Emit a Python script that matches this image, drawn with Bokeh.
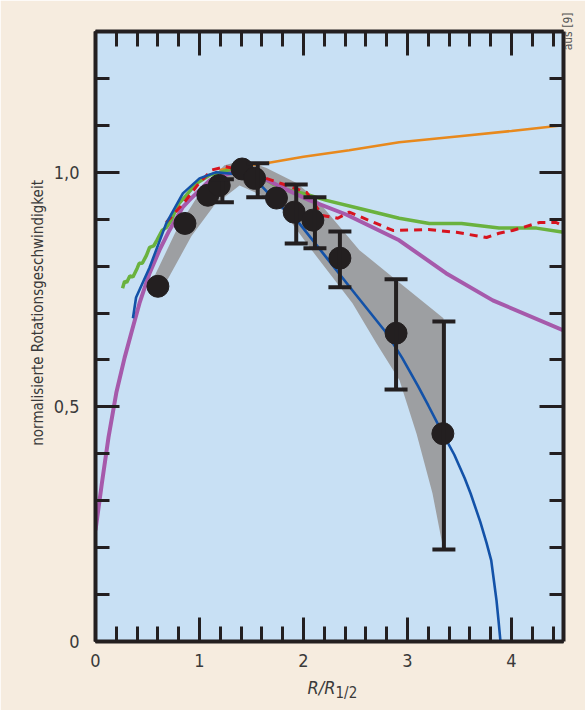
import math
from bokeh.plotting import figure
from bokeh.models import (LinearAxis, FixedTicker, Range1d, Whisker,
                          ColumnDataSource, TeeHead)
from bokeh.embed import file_html
from bokeh.resources import INLINE

# ---------------- data ----------------
x_ticks = [0, 1, 2, 3, 4]
x_tick_labels = ["0", "1", "2", "3", "4"]
x_minor = [0.2 * i for i in range(23)]
y_ticks = [0, 0.5, 1.0]
y_tick_labels = ["0", "0,5", "1,0"]
y_minor = [0.1 * i for i in range(14)]

pts_x = [0.60, 0.86, 1.08, 1.19, 1.41, 1.53, 1.74, 1.91, 2.09, 2.35, 2.89, 3.34]
pts_y = [0.757, 0.891, 0.951, 0.972, 1.007, 0.987, 0.945, 0.915, 0.898, 0.817, 0.657, 0.443]

err_x = [1.22, 1.56, 1.93, 2.11, 2.35, 2.89, 3.35]
err_lo = [0.936, 0.947, 0.848, 0.838, 0.755, 0.537, 0.196]
err_hi = [0.985, 1.019, 0.974, 0.947, 0.874, 0.772, 0.682]

band_x = [0.635, 0.923, 1.144, 1.385, 1.596, 1.798, 2.058, 2.471, 2.702, 2.923, 3.087, 3.240, 3.337,
          3.346, 2.894, 2.538, 2.135, 1.933, 1.644, 1.433, 1.240, 1.048, 0.788, 0.538]
band_y = [0.748, 0.864, 0.930, 0.972, 0.951, 0.919, 0.840, 0.721, 0.635, 0.557, 0.443, 0.316, 0.205,
          0.689, 0.770, 0.834, 0.940, 0.977, 1.009, 1.026, 1.015, 0.972, 0.881, 0.765]

blue_x = [0.36, 0.39, 0.52, 0.68, 0.84, 1.0, 1.16, 1.4, 1.6, 1.77, 1.96, 2.2, 2.5, 2.8, 2.95, 3.1,
          3.2, 3.34, 3.45, 3.55, 3.606, 3.7, 3.76, 3.805, 3.83, 3.856, 3.875, 3.894]
blue_y = [0.689, 0.733, 0.797, 0.891, 0.955, 0.987, 1.0, 0.995, 0.97, 0.93, 0.891, 0.824, 0.74, 0.657,
          0.604, 0.545, 0.503, 0.443, 0.398, 0.348, 0.316, 0.255, 0.21, 0.173, 0.131, 0.087, 0.045,
          0.0]

green_x = [0.26, 0.28, 0.30, 0.33, 0.36, 0.40, 0.42, 0.45, 0.49, 0.52, 0.56, 0.59, 0.64, 0.68, 0.73,
           0.79, 0.97, 1.1, 1.25, 1.4, 1.6, 1.77, 2.0, 2.22, 2.5, 2.92, 3.21, 3.52, 3.88, 4.24, 4.5]
green_y = [0.753, 0.768, 0.765, 0.779, 0.777, 0.795, 0.806, 0.806, 0.823, 0.840, 0.843, 0.855, 0.876,
           0.882, 0.898, 0.930, 0.976, 0.994, 1.003, 1.0, 0.99, 0.966, 0.955, 0.940, 0.925, 0.902,
           0.891, 0.891, 0.881, 0.881, 0.872]

mag_x = [0.0, 0.06, 0.125, 0.2, 0.28, 0.356, 0.423, 0.52, 0.615, 0.71, 0.837, 0.9, 1.1, 1.32, 1.55,
         1.77, 2.06, 2.41, 2.92, 3.37, 3.82, 4.5]
mag_y = [0.237, 0.335, 0.435, 0.53, 0.605, 0.667, 0.721, 0.785, 0.834, 0.876, 0.925, 0.94, 0.983,
         1.0, 0.995, 0.97, 0.94, 0.91, 0.855, 0.785, 0.727, 0.663]

red_x = [0.68, 0.85, 1.0, 1.12, 1.25, 1.4, 1.6, 1.8, 2.03, 2.18, 2.33, 2.44, 2.7, 2.86, 3.2, 3.47,
         3.76, 3.88, 4.01, 4.27, 4.43, 4.5]
red_y = [0.893, 0.935, 0.978, 1.005, 1.012, 1.005, 0.99, 0.975, 0.957, 0.908, 0.902, 0.915, 0.891,
         0.876, 0.878, 0.872, 0.861, 0.870, 0.876, 0.893, 0.893, 0.885]

orange_x = [1.2, 1.4, 1.64, 2.0, 2.44, 2.92, 3.5, 4.0, 4.5]
orange_y = [1.005, 1.013, 1.019, 1.033, 1.047, 1.064, 1.077, 1.088, 1.100]

y_title = "normalisierte Rotationsgeschwindigkeit"
x_title_main = "R/R"
x_title_sub = "1/2"
source_note = "aus [9]"

# ---------------- styles ----------------
BEIGE = "#f6ecdf"
PLOTBG = "#c8e0f4"
DARK = "#231f20"
TXT = "#3a3a3a"
FONT = "'Liberation Sans Narrow', 'DejaVu Sans Condensed', 'Liberation Sans', sans-serif"
EN = "\u2002"
EM = "\u2003"

p = figure(width=585, height=710, x_range=Range1d(0, 4.5), y_range=Range1d(0, 1.3),
           output_backend="svg", toolbar_location=None,
           x_axis_location=None, y_axis_location=None,
           min_border_left=95, min_border_right=22, min_border_top=31, min_border_bottom=69)
p.background_fill_color = PLOTBG
p.border_fill_color = BEIGE
p.outline_line_color = None
for g in p.grid:
    g.visible = False


def make_axis(ticks, minor, labels, major_len, minor_len, show_labels, standoff):
    ax = LinearAxis(ticker=FixedTicker(ticks=ticks, minor_ticks=minor))
    ax.major_tick_in = major_len
    ax.major_tick_out = 0
    ax.minor_tick_in = minor_len
    ax.minor_tick_out = 0
    ax.major_tick_line_width = 3
    ax.minor_tick_line_width = 3
    ax.major_tick_line_color = DARK
    ax.minor_tick_line_color = DARK
    ax.axis_line_width = 4
    ax.axis_line_color = DARK
    ax.major_label_overrides = {t: l for t, l in zip(ticks, labels)}
    ax.major_label_text_font = FONT
    ax.major_label_text_font_size = "18px"
    ax.major_label_text_color = TXT
    ax.major_label_standoff = standoff
    ax.axis_label_text_font = FONT
    ax.axis_label_text_color = TXT
    ax.axis_label_text_font_style = "normal"
    if not show_labels:
        ax.major_label_text_color = None
        ax.major_label_text_font_size = "0px"
        ax.major_label_standoff = 0
    return ax


# bottom axis with the main part of the x title
bax = make_axis(x_ticks, x_minor, x_tick_labels, 24, 15, True, 12)
bax.axis_label = x_title_main + EN * 2
bax.axis_label_text_font_size = "18px"
bax.axis_label_text_font_style = "italic"
bax.axis_label_standoff = 7
p.add_layout(bax, "below")

# helper axis carrying only the subscript of the x title
sub = LinearAxis(ticker=FixedTicker(ticks=[]))
sub.axis_line_color = None
sub.major_tick_line_color = None
sub.minor_tick_line_color = None
sub.major_label_text_font_size = "0px"
sub.major_label_standoff = 0
sub.axis_label = EN * 5 + x_title_sub
sub.axis_label_text_font = FONT
sub.axis_label_text_font_size = "15px"
sub.axis_label_text_font_style = "normal"
sub.axis_label_text_color = TXT
sub.axis_label_standoff = -17
p.add_layout(sub, "below")

p.add_layout(make_axis(x_ticks, x_minor, x_tick_labels, 24, 15, False, 0), "above")

yax = make_axis(y_ticks, y_minor, y_tick_labels, 24, 14, True, 16)
yax.axis_label = EN * 7 + y_title
yax.axis_label_text_font_size = "15px"
yax.axis_label_standoff = 4
p.add_layout(yax, "left")

# right axis, carrying the source note as its (rotated) label
rax = make_axis(y_ticks, y_minor, y_tick_labels, 24, 14, False, 0)
rax.axis_label_text_font_size = "12px"
rax.axis_label_text_color = "#555555"
rax.axis_label_standoff = 4
if "axis_label_orientation" in LinearAxis.properties():
    rax.axis_label_orientation = math.pi / 2
    rax.axis_label = EM * 26 + EN + source_note
else:
    rax.axis_label = source_note + EM * 47
p.add_layout(rax, "right")

# band
p.patch(band_x, band_y, fill_color="#9d9fa2", line_color=None)

# model curves
p.line(orange_x, orange_y, line_color="#e8891d", line_width=2.5)
p.line(green_x, green_y, line_color="#6ab23e", line_width=3.5)
p.line(mag_x, mag_y, line_color="#a65aab", line_width=4)
p.line(red_x, red_y, line_color="#d7141f", line_width=3, line_dash="8 6")
p.line(blue_x, blue_y, line_color="#1352a8", line_width=2.6)

# error bars (drawn above the band)
src = ColumnDataSource(dict(x=err_x, lo=err_lo, hi=err_hi))
w = Whisker(base="x", lower="lo", upper="hi", source=src, line_color=DARK, line_width=4,
            upper_head=TeeHead(size=23, line_width=4, line_color=DARK),
            lower_head=TeeHead(size=23, line_width=4, line_color=DARK),
            level="annotation")
p.add_layout(w)

# data points
p.scatter(pts_x, pts_y, size=22, fill_color=DARK, line_color=DARK)

open("out.html", "w").write(file_html(p, INLINE))
